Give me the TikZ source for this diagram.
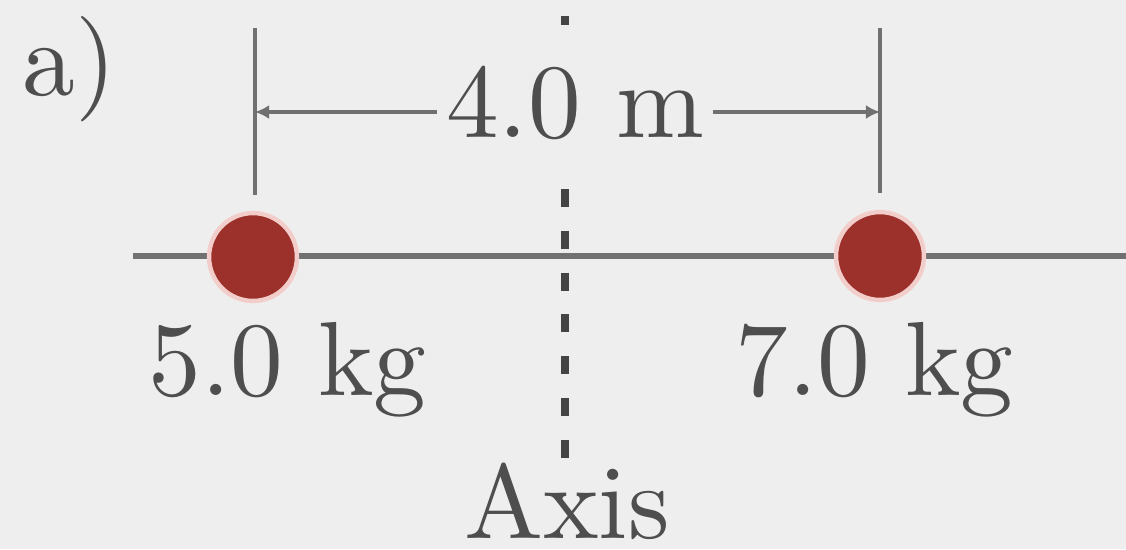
\documentclass[tikz,border=0pt]{standalone}
\usepackage{fontspec}
\newfontfamily\lmten{lmroman10-regular}[Extension=.otf]
\usetikzlibrary{arrows.meta}
\definecolor{bg}{HTML}{EEEEEE}
\definecolor{ink}{HTML}{4E4E4E}
\definecolor{axisink}{HTML}{444444}
\definecolor{rodgray}{HTML}{707070}
\definecolor{massred}{HTML}{9C302B}
\definecolor{halo}{HTML}{F2CDC9}
\begin{document}
\begin{tikzpicture}[x=0.02cm,y=-0.02cm,
  lbl/.style={text=ink,inner sep=0pt,font=\lmten\fontsize{60}{72}\selectfont},
  mass/.style={circle,fill=massred,draw=halo,line width=2.5pt,minimum size=50pt,inner sep=0pt},
  rodline/.style={draw=rodgray,line width=3.4pt},
  guide/.style={draw=rodgray,line width=2.8pt},
  dimarrow/.style={draw=rodgray,line width=2.8pt,-{Latex[length=8pt,width=8pt]}},
  axisline/.style={draw=axisink,line width=5pt,dash pattern=on 10.2pt off 13.6pt}]
\fill[bg] (0,0) rectangle (1126,549);
\useasboundingbox (0,0) rectangle (1126,549);
% rod
\coordinate (rodL) at (133,256);
\coordinate (rodR) at (1126,256);
\draw[rodline] (rodL) -- (rodR);
% axis
\coordinate (ax0) at (565,16);
\coordinate (ax1) at (565,25);
\coordinate (ax2) at (565,189);
\coordinate (ax3) at (565,459);
\draw[draw=axisink,line width=5pt] (ax0) -- (ax1);
\draw[axisline] (ax2) -- (ax3);
% masses
\node[mass] (m1) at (253,257) {};
\node[mass] (m2) at (880,256) {};
% guides
\coordinate (g1t) at (255,28);
\coordinate (g1b) at (255,195);
\coordinate (g2t) at (880,28);
\coordinate (g2b) at (880,193);
\draw[guide] (g1t) -- (g1b);
\draw[guide] (g2t) -- (g2b);
% dimension
\coordinate (d1) at (255,112);
\coordinate (d2) at (880,112);
\node[lbl,anchor=base,inner xsep=5pt] (dim) at (575,137) {4.0 m};
\draw[dimarrow] (dim.west |- d1) -- (d1);
\draw[dimarrow] (dim.east |- d2) -- (d2);
% labels
\node[lbl,anchor=base west] (lab) at (22,95) {a)};
\node[lbl,anchor=base west] (m1lab) at (148,395) {5.0 kg};
\node[lbl,anchor=base west] (m2lab) at (735,395) {7.0 kg};
\node[lbl,anchor=base] (axlab) at (567,538) {Axis};
\end{tikzpicture}
\end{document}
